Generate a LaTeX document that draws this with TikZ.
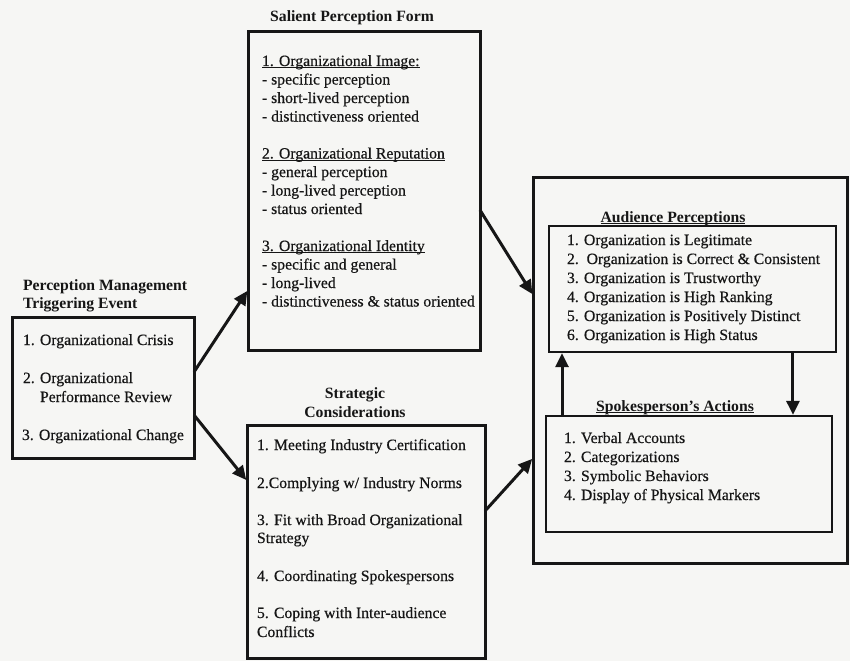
\documentclass[tikz,border=0pt]{standalone}
\usepackage{fontspec}
\setmainfont{Liberation Serif}
\newfontfamily\bodyfont{Liberation Serif}[FakeBold=0.5]
\usetikzlibrary{arrows.meta,calc}
\definecolor{bg}{RGB}{246,246,244}
\definecolor{ink}{RGB}{22,22,22}
\newcommand\ulx[1]{\setbox0\hbox{#1}\rlap{\rule[-1.9pt]{\wd0}{0.9pt}}\box0}
\begin{document}
\begin{tikzpicture}[x=1pt,y=-1pt,
  every node/.style={font=\fontsize{15.7}{18.8}\selectfont\bodyfont, text=ink, inner sep=0pt, outer sep=0pt},
  heavybox/.style={draw=ink, line width=3pt, anchor=north west},
  lightbox/.style={draw=ink, line width=1.6pt, anchor=north west},
  txt/.style={anchor=base west},
  ttl/.style={anchor=base, font=\fontsize{15.7}{18.8}\selectfont\rmfamily\bfseries},
  ttlw/.style={anchor=base west, font=\fontsize{15.7}{18.8}\selectfont\rmfamily\bfseries},
  arr/.style={draw=ink, line width=3pt, shorten >=1.2pt, -{Triangle[length=14pt,width=13pt]}},
]
\fill[bg] (0,0) rectangle (850,661);
\useasboundingbox (0,0) rectangle (850,661);

% boxes
\node[heavybox, minimum width=182pt, minimum height=141pt] (lbox) at (12,317) {};
\node[heavybox, minimum width=232pt, minimum height=318pt] (salbox) at (248,32) {};
\node[heavybox, minimum width=238pt, minimum height=233pt] (strbox) at (247,425) {};
\node[heavybox, minimum width=314pt, minimum height=386pt] (audbox) at (533,177) {};
\node[lightbox, minimum width=287pt, minimum height=126pt] (apbox) at (549,226) {};
\node[lightbox, minimum width=286pt, minimum height=116pt] (sabox) at (546,416) {};

% Salient perception form
\node[ttl] (saltitle) at (352,22) {Salient Perception Form};
\foreach \yy/\t [count=\i] in {
  66/{\ulx{1. Organizational Image:}},
  84.5/{- specific perception},
  103/{- short-lived perception},
  121.5/{- distinctiveness oriented},
  158.5/{\ulx{2. Organizational Reputation}},
  177/{- general perception},
  195.5/{- long-lived perception},
  214/{- status oriented},
  251/{\ulx{3. Organizational Identity}},
  269.5/{- specific and general},
  288/{- long-lived},
  306.5/{- distinctiveness \& status oriented}}
  \node[txt] (sal\i) at (262,\yy) {\t};

% Triggering event
\node[ttlw] (lt1) at (23,290) {Perception Management};
\node[ttlw] (lt2) at (23,308) {Triggering Event};
\node[txt] (l1) at (23,345) {1. Organizational Crisis};
\node[txt] (l2) at (23,383) {2. Organizational};
\node[txt] (l3) at (23,402) {\hphantom{2. }Performance Review};
\node[txt] (l4) at (22,440) {3. Organizational Change};

% Strategic considerations
\node[ttl] (st1) at (355,398) {Strategic};
\node[ttl] (st2) at (355,417) {Considerations};
\foreach \yy/\t [count=\i] in {
  450/{1. Meeting Industry Certification},
  488/{2.Complying w/ Industry Norms},
  525/{3. Fit with Broad Organizational},
  543/{Strategy},
  581/{4. Coordinating Spokespersons},
  618/{5. Coping with Inter-audience},
  637/{Conflicts}}
  \node[txt] (str\i) at (257,\yy) {\t};

% Audience perceptions
\node[ttl] (aptitle) at (673,222) {\ulx{Audience Perceptions}};
\foreach \yy/\t [count=\i] in {
  245/{1. Organization is Legitimate},
  264/{2.\ \ Organization is Correct \& Consistent},
  283/{3. Organization is Trustworthy},
  302/{4. Organization is High Ranking},
  321/{5. Organization is Positively Distinct},
  340/{6. Organization is High Status}}
  \node[txt] (ap\i) at (567,\yy) {\t};

% Spokesperson's actions
\node[ttl] (satitle) at (675,411) {\ulx{Spokesperson's Actions}};
\foreach \yy/\t [count=\i] in {
  443/{1. Verbal Accounts},
  462/{2. Categorizations},
  481/{3. Symbolic Behaviors},
  500/{4. Display of Physical Markers}}
  \node[txt] (sa\i) at (564,\yy) {\t};

% connectors
\draw[arr] ($(lbox.north east)!0.39!(lbox.south east)$) -- ($(salbox.north west)!0.811!(salbox.south west)$);
\draw[arr] ($(lbox.north east)!0.695!(lbox.south east)$) -- ($(strbox.north west)!0.24!(strbox.south west)$);
\draw[arr] ($(salbox.north east)!0.56!(salbox.south east)$) -- ($(audbox.north west)!0.306!(audbox.south west)$);
\draw[arr] ($(strbox.north east)!0.369!(strbox.south east)$) -- ($(audbox.north west)!0.728!(audbox.south west)$);
\coordinate (ux) at ($(sabox.north west)!0.056!(sabox.north east)$);
\coordinate (dx) at ($(apbox.south west)!0.85!(apbox.south east)$);
\draw[arr] (ux) -- (ux |- apbox.south);
\draw[arr] (dx) -- (dx |- sabox.north);
\end{tikzpicture}
\end{document}
